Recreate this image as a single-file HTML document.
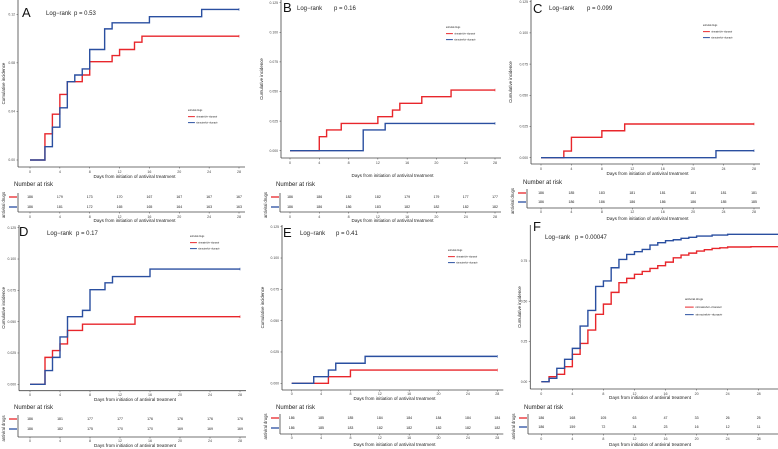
<!DOCTYPE html>
<html><head><meta charset="utf-8"><style>
html,body{margin:0;padding:0;background:#fff;}
svg{display:block;font-family:"Liberation Sans",sans-serif;}
</style></head><body>
<svg id="fig" width="778" height="449" viewBox="0 0 778 449" xmlns="http://www.w3.org/2000/svg"></svg>
<script>
// ---- data ----
const aRedT=[2,3,4,5,7,8,11,12,14,15];
const aRedV=[0.0216,0.0377,0.054,0.0645,0.070,0.081,0.086,0.091,0.097,0.102];
const aBlueT=[2,3,4,5,6,7,8,10,11,16,23];
const aBlueV=[0.011,0.027,0.043,0.0645,0.070,0.075,0.091,0.108,0.113,0.118,0.124];
const bRedT=[4,5,7,12,14,15,18,22];
const bRedV=[0.0118,0.0175,0.023,0.0287,0.0343,0.040,0.0456,0.0512];
const bBlueT=[10,13];
const bBlueV=[0.0175,0.023];
const cRedT=[3,4,8,11];
const cRedV=[0.0053,0.0163,0.0216,0.027];
const cBlueT=[23];
const cBlueV=[0.0056];
const dRedT=[2,3,4,5,7,14];
const dRedV=[0.0215,0.0269,0.0322,0.043,0.048,0.054];
const dBlueT=[2,3,4,5,7,8,10,11,16];
const dBlueV=[0.011,0.0215,0.0378,0.054,0.059,0.0755,0.081,0.086,0.092];
const eRedT=[5,8];
const eRedV=[0.0053,0.0106];
const eBlueT=[3,5,6,10];
const eBlueV=[0.0053,0.0106,0.016,0.0215];
const fRedT=[1,2,3,4,5,6,7,8,9,10,11,12,13,14,15,16,17,18,19,20,21,22,23,24,27];
const fRedV=[0.031,0.046,0.093,0.170,0.238,0.321,0.419,0.482,0.555,0.615,0.642,0.667,0.685,0.704,0.721,0.743,0.770,0.787,0.799,0.812,0.820,0.828,0.832,0.837,0.839];
const fBlueT=[1,2,3,4,5,6,7,8,9,10,11,12,13,14,15,16,17,18,19,20,22,24];
const fBlueV=[0.021,0.083,0.139,0.207,0.346,0.443,0.592,0.626,0.708,0.760,0.791,0.808,0.822,0.849,0.864,0.876,0.882,0.891,0.897,0.905,0.911,0.916];
const xTicks=[0,4,8,12,16,20,24,28];
const yTicksSmall=[0,0.025,0.05,0.075,0.1,0.125];
const yTickLabSmall=["0.000","0.025","0.050","0.075","0.100","0.125"];
const yTicksA=[0,0.04,0.08,0.12];
const yTickLabA=["0.00","0.04","0.08","0.12"];
const yTicksF=[0,0.25,0.5,0.75];
const yTickLabF=["0.00","0.25","0.50","0.75"];
const riskA=[[186,179,173,170,167,167,167,167],[186,181,172,165,165,164,163,163]];
const riskB=[[186,186,182,182,179,179,177,177],[186,186,186,183,182,182,182,182]];
const riskC=[[186,185,183,181,181,181,181,181],[186,186,186,186,186,186,185,185]];
const riskD=[[186,181,177,177,176,176,176,176],[186,182,175,170,170,169,169,169]];
const riskE=[[186,185,185,184,184,184,184,184],[186,185,183,182,182,182,182,182]];
const riskF=[[186,168,105,63,47,33,26,25],[186,159,72,34,23,16,12,11]];

const RED="#e8262b", BLUE="#2a4fa0", AX="#444";
const svg=document.getElementById('fig');
const NS="http://www.w3.org/2000/svg";
function mk(tag,attrs,parent){const e=document.createElementNS(NS,tag);for(const k in attrs)e.setAttribute(k,attrs[k]);(parent||svg).appendChild(e);return e;}
function txt(x,y,s,size,parent,anchor,extra){const t=mk('text',Object.assign({x:x,y:y,'font-size':size,fill:'#222','text-anchor':anchor||'start'},extra||{}),parent);t.textContent=s;return t;}

const panels=[
 {id:'a',L:'A',p:'p = 0.53',ax:18,top:0,bot:167,x0:30,x28:239,xEnd:28,yv0:0,ypx0:160,yv1:0.12,ypx1:14.3,yt:yTicksA,ytl:yTickLabA,xtY:173,xtitY:178,ytitX:5,
  rT:aRedT,rV:aRedV,bT:aBlueT,bV:aBlueV,risk:riskA,nrY:186,r1:198,r2:208,tb:212,ttY:218,tTitY:222,tblL:18,letX:22,letY:17,lrX:46,lrY:15,pX:74,legX:188,legY:111,legFs:2.3},
 {id:'b',L:'B',p:'p = 0.16',ax:281,top:0,bot:158,x0:290,x28:495,xEnd:28,yv0:0,ypx0:150.7,yv1:0.125,ypx1:2.7,yt:yTicksSmall,ytl:yTickLabSmall,xtY:164,xtitY:177,ytitX:263,
  rT:bRedT,rV:bRedV,bT:bBlueT,bV:bBlueV,risk:riskB,nrY:186,r1:198,r2:208,tb:212,ttY:218,tTitY:222,tblL:280,letX:283,letY:12,lrX:297,lrY:10,pX:334,legX:446,legY:28,legFs:2.3},
 {id:'c',L:'C',p:'p = 0.099',ax:531,top:0,bot:164,x0:541,x28:754,xEnd:28,yv0:0,ypx0:157.7,yv1:0.125,ypx1:1.7,yt:yTicksSmall,ytl:yTickLabSmall,xtY:170,xtitY:175,ytitX:512,
  rT:cRedT,rV:cRedV,bT:cBlueT,bV:cBlueV,risk:riskC,nrY:184,r1:194,r2:203,tb:208,ttY:213,tTitY:220,tblL:527,letX:533,letY:13,lrX:549,lrY:10,pX:587,legX:703,legY:26,legFs:2.3},
 {id:'d',L:'D',p:'p = 0.17',ax:19,top:225,bot:390.7,x0:30,x28:240,xEnd:28,yv0:0,ypx0:384.3,yv1:0.125,ypx1:227.7,yt:yTicksSmall,ytl:yTickLabSmall,xtY:396,xtitY:401,ytitX:5,
  rT:dRedT,rV:dRedV,bT:dBlueT,bV:dBlueV,risk:riskD,nrY:409,r1:420,r2:430,tb:437,ttY:442,tTitY:447,tblL:18,letX:19,letY:236,lrX:47,lrY:235,pX:76,legX:190,legY:237,legFs:2.3},
 {id:'e',L:'E',p:'p = 0.41',ax:282,top:225,bot:390,x0:291.7,x28:497.3,xEnd:28,yv0:0,ypx0:383.3,yv1:0.125,ypx1:226.7,yt:yTicksSmall,ytl:yTickLabSmall,xtY:395,xtitY:400,ytitX:264,
  rT:eRedT,rV:eRedV,bT:eBlueT,bV:eBlueV,risk:riskE,nrY:409,r1:419,r2:429,tb:434,ttY:439,tTitY:446,tblL:280,letX:283,letY:237,lrX:300,lrY:235,pX:336,legX:448,legY:251,legFs:2.3},
 {id:'f',L:'F',p:'p = 0.00047',ax:530.3,top:225,bot:389,x0:541.3,x28:758.7,xEnd:31.5,yv0:0,ypx0:381.7,yv1:0.75,ypx1:261,yt:yTicksF,ytl:yTickLabF,xtY:395,xtitY:399,ytitX:521,
  rT:fRedT,rV:fRedV,bT:fBlueT,bV:fBlueV,risk:riskF,nrY:409,r1:419,r2:428,tb:434,ttY:440,tTitY:446,tblL:528,letX:533,letY:231,lrX:545,lrY:239,pX:575,legX:685,legY:300,legFs:2.9}
];

panels.forEach(P=>{
 const g=mk('g',{});
 
 
 const xs=t=>P.x0+(P.x28-P.x0)*t/28;
 const ys=v=>P.ypx0+(P.ypx1-P.ypx0)*(v-P.yv0)/(P.yv1-P.yv0);
 const rightEdge=Math.min(778,xs(P.xEnd)+6);
 const ya=mk('line',{x1:P.ax,y1:P.top,x2:P.ax,y2:P.bot,stroke:AX,'stroke-width':0.8},g);
 
 
 const xa=mk('line',{x1:P.ax,y1:P.bot,x2:rightEdge,y2:P.bot,stroke:AX,'stroke-width':0.8},g);
 
 
 xTicks.forEach(t=>{
  mk('line',{x1:xs(t),y1:P.bot,x2:xs(t),y2:P.bot+1.5,stroke:AX,'stroke-width':0.5},g);
  const l=txt(xs(t),P.xtY,String(t),3.6,g,'middle',{fill:'#444'});
  
  
 });
 P.yt.forEach((v,i)=>{
  mk('line',{x1:P.ax-1.5,y1:ys(v),x2:P.ax,y2:ys(v),stroke:AX,'stroke-width':0.5},g);
  const l=txt(P.ax-3,ys(v)+1.2,P.ytl[i],3.4,g,'end',{fill:'#444'});
  
  
 });
 const xt=txt((P.x0+P.x28)/2,P.xtitY,'Days from initiation of antiviral treatment',4.6,g,'middle');
 
 
 const cy=(P.top+P.bot)/2;
 const yt=txt(P.ytitX,cy,'Cumulative incidence',4.4,g,'middle',{transform:'rotate(-90 '+P.ytitX+' '+cy+')'});
 
 
 function curve(T,V,col,name){
  let d='M'+xs(0)+' '+ys(0);
  for(let i=0;i<T.length;i++){d+=' H'+xs(T[i])+' V'+ys(V[i]);}
  d+=' H'+xs(P.xEnd);
  const p=mk('path',{d:d,fill:'none',stroke:col,'stroke-width':1.4},g);
  
  
  const lv=V[V.length-1];
  mk('line',{x1:xs(P.xEnd),y1:ys(lv)-1.3,x2:xs(P.xEnd),y2:ys(lv)+1.3,stroke:col,'stroke-width':0.6},g);
 }
 curve(P.rT,P.rV,RED,'nirmatrelvir-curve');
 curve(P.bT,P.bV,BLUE,'simnotrelvir-curve');
 const lt=txt(P.letX,P.letY,P.L,13,g,'start',{fill:'#111'});
 
 
 const lr=txt(P.lrX,P.lrY,'Log\u2212rank',6,g,'start');
 
 
 const pv=txt(P.pX,P.lrY,P.p,6,g,'start');
 
 
 const fs=P.legFs;
 const lg=mk('g',{},g);
 
 
 txt(P.legX,P.legY,'antiviral drugs',fs,lg);
 [[RED,'nirmatrelvir\u2212ritonavir'],[BLUE,'simnotrelvir\u2212ritonavir']].forEach((e,i)=>{
  const yy=P.legY+fs*2.8+i*fs*2.6;
  const it=mk('g',{},lg);
  
  
  mk('line',{x1:P.legX,y1:yy-fs*0.35,x2:P.legX+fs*3,y2:yy-fs*0.35,stroke:e[0],'stroke-width':1},it);
  txt(P.legX+fs*3.6,yy,e[1],fs,it);
 });
 const nr=txt(P.tblL-4,P.nrY,'Number at risk',6,g,'start');
 
 
 mk('line',{x1:P.tblL,y1:P.r1-5,x2:P.tblL,y2:P.tb,stroke:AX,'stroke-width':0.8},g);
 mk('line',{x1:P.tblL,y1:P.tb,x2:rightEdge,y2:P.tb,stroke:AX,'stroke-width':0.8},g);
 [[RED,P.r1,0],[BLUE,P.r2,1]].forEach(r=>{
  mk('line',{x1:P.tblL-9,y1:r[1]-1,x2:P.tblL-1,y2:r[1]-1,stroke:r[0],'stroke-width':1.3},g);
  P.risk[r[2]].forEach((n,i)=>{
   const c=txt(xs(xTicks[i]),r[1],String(n),3.5,g,'middle');
   
   
  });
 });
 xTicks.forEach(t=>{
  mk('line',{x1:xs(t),y1:P.tb,x2:xs(t),y2:P.tb+1.5,stroke:AX,'stroke-width':0.5},g);
  txt(xs(t),P.ttY,String(t),3.6,g,'middle',{fill:'#444'});
 });
 const tt=txt((P.x0+P.x28)/2,P.tTitY,'Days from initiation of antiviral treatment',4.6,g,'middle');
 
 
 const dx=P.tblL-13, dy=(P.r1+P.tb)/2;
 const ad=txt(dx,dy,'antiviral drugs',4.2,g,'middle',{transform:'rotate(-90 '+dx+' '+dy+')'});
 
 
});
</script>
</body></html>
